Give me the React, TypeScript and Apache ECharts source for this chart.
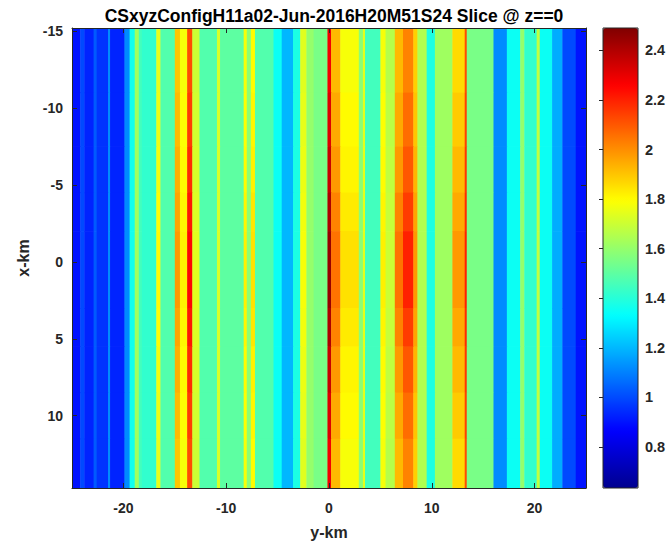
import React, { useEffect, useRef } from "react";
import * as echarts from "echarts";

const TITLE = "CSxyzConfigH11a02-Jun-2016H20M51S24 Slice @ z==0";

// stripe boundaries along y-km
const stripeEdges = [
  -25, -24.2, -23.8, -22.9, -22.6, -21.5, -21.3, -19.9, -19.4, -18.9, -18.5, -18.2,
  -16.8, -16.4, -15.0, -14.5, -13.8, -13.3, -12.6, -10.9, -10.6, -8.3, -8.0, -7.6,
  -7.2, -5.4, -4.6, -3.5, -2.8, -2.2, -1.5, -0.15, 0.2, 1.1, 2.9, 3.3, 3.5, 5.0,
  5.5, 6.4, 7.2, 8.2, 8.6, 9.5, 10.3, 12.0, 13.2, 13.4, 16.0, 17.3, 18.6, 19.0,
  20.2, 20.5, 21.7, 22.7, 24.0, 25,
];

// stripe values read at the top / bottom edge rows
const profile0 = [
  0.9, 1.0, 0.93, 1.03, 0.96, 1.12, 0.93, 1.12, 1.36, 1.62, 1.45, 1.42,
  1.75, 1.48, 1.9, 1.78, 2.12, 1.7, 1.48, 1.72, 1.5, 1.78, 1.58, 1.8,
  1.48, 1.35, 1.2, 1.38, 1.74, 1.6, 1.55, 2.28, 1.92, 1.78, 1.58, 1.75, 1.45,
  1.78, 1.66, 1.92, 2.02, 1.88, 1.65, 1.38, 1.62, 1.86, 2.12, 1.55, 1.12,
  1.35, 1.6, 1.42, 1.68, 1.35, 1.18, 1.0, 0.9,
];
const profile1 = [
  0.9, 1.0, 0.93, 1.03, 0.96, 1.12, 0.93, 1.12, 1.36, 1.62, 1.45, 1.42,
  1.76, 1.48, 1.92, 1.79, 2.15, 1.71, 1.48, 1.72, 1.5, 1.79, 1.58, 1.81,
  1.48, 1.35, 1.2, 1.38, 1.75, 1.6, 1.55, 2.32, 1.95, 1.8, 1.58, 1.75, 1.45,
  1.79, 1.67, 1.95, 2.06, 1.9, 1.65, 1.38, 1.62, 1.89, 2.14, 1.55, 1.12,
  1.35, 1.6, 1.42, 1.68, 1.35, 1.18, 1.0, 0.9,
];
const profile2 = [
  0.9, 1.0, 0.93, 1.03, 0.96, 1.12, 0.93, 1.12, 1.36, 1.62, 1.45, 1.42,
  1.77, 1.48, 1.94, 1.8, 2.18, 1.72, 1.48, 1.72, 1.5, 1.8, 1.58, 1.82,
  1.48, 1.35, 1.2, 1.38, 1.76, 1.6, 1.55, 2.36, 1.98, 1.81, 1.58, 1.75, 1.45,
  1.8, 1.68, 1.98, 2.1, 1.93, 1.65, 1.38, 1.62, 1.92, 2.16, 1.55, 1.12,
  1.35, 1.6, 1.42, 1.68, 1.35, 1.18, 1.0, 0.9,
];
const profile3 = [
  0.9, 1.0, 0.93, 1.03, 0.96, 1.12, 0.93, 1.12, 1.36, 1.62, 1.45, 1.42,
  1.79, 1.48, 1.96, 1.81, 2.22, 1.73, 1.48, 1.72, 1.5, 1.81, 1.58, 1.84,
  1.48, 1.35, 1.2, 1.38, 1.77, 1.6, 1.55, 2.41, 2.02, 1.83, 1.58, 1.75, 1.45,
  1.81, 1.69, 2.02, 2.15, 1.96, 1.65, 1.38, 1.62, 1.95, 2.18, 1.55, 1.12,
  1.35, 1.6, 1.42, 1.68, 1.35, 1.18, 1.0, 0.9,
];
// stripe values read at the middle rows (x-km near 0)
const profile4 = [
  0.9, 1.0, 0.93, 1.03, 0.96, 1.12, 0.93, 1.12, 1.36, 1.62, 1.45, 1.42,
  1.8, 1.48, 1.98, 1.82, 2.25, 1.74, 1.48, 1.72, 1.5, 1.82, 1.58, 1.85,
  1.48, 1.35, 1.2, 1.38, 1.78, 1.6, 1.55, 2.45, 2.05, 1.85, 1.58, 1.75, 1.45,
  1.82, 1.7, 2.05, 2.2, 1.98, 1.65, 1.38, 1.62, 1.98, 2.2, 1.55, 1.12,
  1.35, 1.6, 1.42, 1.68, 1.35, 1.18, 1.0, 0.9,
];

// row bands along x-km and which profile each band shows
const rowEdges = [-15.2, -11, -7.5, -4.5, -2, 3, 5.5, 8.5, 11.5, 14.7];
const rowProfileIndex = [0, 1, 2, 3, 4, 3, 2, 1, 0];

const xTicks = [-20, -10, 0, 10, 20];
const yTicks = [-15, -10, -5, 0, 5, 10];
const cbTicks = [0.8, 1, 1.2, 1.4, 1.6, 1.8, 2, 2.2, 2.4];
const cMin = 0.635;
const cMax = 2.49;
const jetColors = [
  "#00008F", "#0000FF", "#0080FF", "#00FFFF", "#80FF80",
  "#FFFF00", "#FF8000", "#FF0000", "#800000",
];

const profiles = [profile0, profile1, profile2, profile3, profile4];

const TXT = "#262626";
const FONT = "Liberation Sans, Arial, sans-serif";

export default function App() {
  const ref = useRef<HTMLDivElement>(null);
  useEffect(() => {
    if (!ref.current) return;
    const chart = echarts.init(ref.current, undefined, { renderer: "svg" });
    const cells: number[][] = [];
    rowProfileIndex.forEach((p, r) => {
      const vals = profiles[p];
      for (let s = 0; s < vals.length; s++) {
        cells.push([stripeEdges[s], stripeEdges[s + 1], rowEdges[r], rowEdges[r + 1], vals[s]]);
      }
    });
    const tickLabel = {
      fontWeight: "bold" as const,
      fontSize: 14,
      color: TXT,
      fontFamily: FONT,
    };
    chart.setOption({
      animation: false,
      textStyle: { fontFamily: FONT },
      title: {
        text: TITLE,
        left: 329,
        textAlign: "center",
        top: 2,
        textStyle: { fontSize: 17.5, fontWeight: "bold", color: "#000", fontFamily: FONT },
      },
      grid: [
        { left: 72, right: 84, top: 28, bottom: 59, show: false },
        { left: 603, width: 35, top: 28, bottom: 59, show: true, borderColor: TXT, borderWidth: 1, backgroundColor: "transparent", z: 10 },
      ],
      xAxis: [
        {
          type: "value", gridIndex: 0, position: "bottom", min: -25, max: 25, z: 5,
          axisLine: { show: true, onZero: false, lineStyle: { color: TXT, width: 1 } },
          axisTick: { show: true, inside: true, length: 5, customValues: xTicks, lineStyle: { color: TXT } },
          axisLabel: { ...tickLabel, customValues: xTicks, margin: 13 },
          splitLine: { show: false },
          name: "y-km", nameLocation: "middle", nameGap: 36,
          nameTextStyle: { fontSize: 16, fontWeight: "bold", color: TXT, fontFamily: FONT },
        },
        {
          type: "value", gridIndex: 0, position: "top", min: -25, max: 25, z: 5,
          axisLine: { show: true, onZero: false, lineStyle: { color: TXT, width: 1 } },
          axisTick: { show: true, inside: true, length: 5, customValues: xTicks, lineStyle: { color: TXT } },
          axisLabel: { show: false },
          splitLine: { show: false },
        },
        { type: "value", gridIndex: 1, show: false, min: 0, max: 1 },
      ],
      yAxis: [
        {
          type: "value", gridIndex: 0, position: "left", inverse: true, min: -15.2, max: 14.7, z: 5,
          axisLine: { show: true, onZero: false, lineStyle: { color: TXT, width: 1 } },
          axisTick: { show: true, inside: true, length: 5, customValues: yTicks, lineStyle: { color: TXT } },
          axisLabel: { ...tickLabel, customValues: yTicks, margin: 9 },
          splitLine: { show: false },
          name: "x-km", nameLocation: "middle", nameGap: 38, nameRotate: 90,
          nameTextStyle: { fontSize: 16, fontWeight: "bold", color: TXT, fontFamily: FONT },
        },
        {
          type: "value", gridIndex: 0, position: "right", inverse: true, min: -15.2, max: 14.7, z: 5,
          axisLine: { show: true, onZero: false, lineStyle: { color: TXT, width: 1 } },
          axisTick: { show: true, inside: true, length: 5, customValues: yTicks, lineStyle: { color: TXT } },
          axisLabel: { show: false },
          splitLine: { show: false },
        },
        {
          type: "value", gridIndex: 1, position: "right", min: cMin, max: cMax, z: 11,
          axisLine: { show: false },
          axisTick: { show: true, inside: true, length: 4, customValues: cbTicks, lineStyle: { color: TXT } },
          axisLabel: { ...tickLabel, fontSize: 14.5, customValues: cbTicks, margin: 7, formatter: (v: number) => String(v) },
          splitLine: { show: false },
        },
      ],
      visualMap: {
        type: "continuous",
        min: cMin,
        max: cMax,
        dimension: 4,
        seriesIndex: 0,
        calculable: false,
        hoverLink: false,
        left: 603,
        top: 28,
        itemWidth: 35,
        itemHeight: 460,
        padding: 0,
        inRange: { color: jetColors },
      },
      series: [
        {
          type: "custom",
          xAxisIndex: 0,
          yAxisIndex: 0,
          clip: true,
          encode: { x: [0, 1], y: [2, 3] },
          data: cells,
          renderItem: (params: any, api: any) => {
            const p0 = api.coord([api.value(0), api.value(2)]);
            const p1 = api.coord([api.value(1), api.value(3)]);
            const x = Math.min(p0[0], p1[0]);
            const y = Math.min(p0[1], p1[1]);
            const w = Math.abs(p1[0] - p0[0]);
            const h = Math.abs(p1[1] - p0[1]);
            return {
              type: "rect",
              shape: { x, y, width: w + 0.5, height: h + 0.5 },
              style: { fill: api.visual("color") },
            };
          },
        },
      ],
    });
    return () => chart.dispose();
  }, []);
  return <div ref={ref} style={{ width: 670, height: 547, position: "absolute", left: 0, top: 0 }} />;
}
